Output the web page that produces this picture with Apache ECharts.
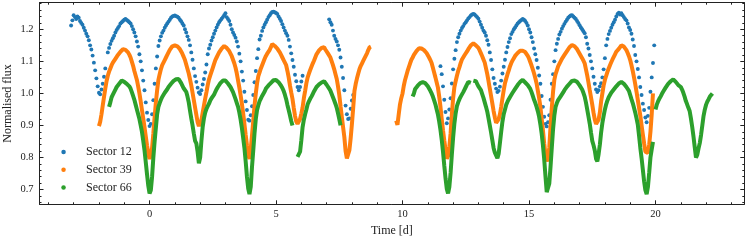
<!DOCTYPE html>
<html><head><meta charset="utf-8">
<script src="https://cdn.jsdelivr.net/npm/echarts@6/dist/echarts.min.js"></script>
<style>html,body{margin:0;padding:0;background:#fff}#c{width:747px;height:242px}</style>
</head><body><div id="c"></div><script>
// Sampling cadence of the read-off values (days)
const cadence = 0.05;

// Sector 12: segment start times and flux values
const s12Start = [-3.10, -1.65, 7.10, 11.50];
const s12Flux = [
 [1.212,1.228,1.244,1.238,1.232,1.240,1.236,1.226,1.220,1.214,
  1.205,1.196,1.186,1.178,1.166,1.150,1.137,1.118,1.096,1.072,
  1.047,1.022,1.002,0.997,1.012,1.030,1.052,1.078],
 [1.128,1.142,1.154,1.164,1.172,1.180,1.190,1.198,1.204,1.210,
  1.218,1.222,1.226,1.230,1.232,1.229,1.226,1.222,1.218,1.210,
  1.200,1.190,1.178,1.162,1.146,1.122,1.100,1.072,1.040,1.010,
  0.972,0.940,0.917,0.898,0.905,0.935,0.979,1.030,1.078,1.115,
  1.148,1.165,1.178,1.189,1.196,1.205,1.212,1.218,1.224,1.230,
  1.236,1.240,1.242,1.243,1.241,1.239,1.236,1.230,1.225,1.218,
  1.212,1.200,1.190,1.178,1.167,1.150,1.128,1.105,1.078,1.054,
  1.036,1.018,1.003,0.998,1.010,1.028,1.045,1.065,1.090,1.122,
  1.140,1.152,1.165,1.175,1.186,1.196,1.206,1.214,1.222,1.228,
  1.233,1.238,1.244,1.250,1.238,1.232,1.226,1.214,1.200,1.190,
  1.182,1.174,1.162,1.146,1.124,1.100,1.068,1.040,1.005,0.975,
  0.948,0.918,0.915,0.932,0.960,0.995,1.035,1.070,1.110,1.138,
  1.168,1.180,1.195,1.206,1.214,1.222,1.230,1.238,1.244,1.250,
  1.254,1.255,1.253,1.251,1.248,1.240,1.233,1.226,1.216,1.206,
  1.196,1.188,1.180,1.167,1.146,1.125,1.104,1.083,1.058,1.038,
  1.020,1.010,1.020,1.037,1.055],
 [1.231,1.222,1.214,1.196,1.180,1.170,1.162,1.150,1.136,1.112,
  1.083,1.048,1.010,0.962,0.935,0.920,0.922,0.952,0.978,0.995],
 [1.085,1.060,1.022,0.980,0.942,0.907,0.922,0.950,0.985,1.031,
  1.075,1.108,1.135,1.160,1.175,1.186,1.196,1.204,1.210,1.217,
  1.222,1.228,1.234,1.238,1.243,1.246,1.248,1.246,1.242,1.238,
  1.233,1.224,1.214,1.205,1.196,1.190,1.180,1.166,1.152,1.128,
  1.104,1.075,1.048,1.030,1.015,1.004,1.008,1.021,1.040,1.062,
  1.083,1.105,1.128,1.145,1.160,1.172,1.185,1.192,1.200,1.206,
  1.212,1.218,1.222,1.226,1.229,1.232,1.230,1.226,1.220,1.212,
  1.200,1.190,1.175,1.160,1.140,1.122,1.104,1.080,1.056,1.030,
  0.992,0.958,0.927,0.905,0.897,0.910,0.932,0.980,1.030,1.060,
  1.100,1.135,1.155,1.170,1.184,1.192,1.202,1.210,1.217,1.224,
  1.230,1.236,1.240,1.243,1.244,1.240,1.236,1.232,1.226,1.220,
  1.213,1.206,1.200,1.194,1.188,1.175,1.155,1.140,1.120,1.100,
  1.078,1.052,1.030,1.012,1.004,1.010,1.022,1.032,1.050,1.075,
  1.110,1.150,1.170,1.185,1.195,1.205,1.214,1.222,1.230,1.240,
  1.248,1.252,1.246,1.250,1.244,1.238,1.232,1.228,1.218,1.206,
  1.198,1.186,1.168,1.148,1.120,1.100,1.076,1.050,1.020,0.995,
  0.968,0.948,0.925,0.910,0.930,0.955,1.005,1.050,1.095,1.150]
];

// Sector 39
const s39Start = [-2.00, 9.75];
const s39Flux = [
 [0.898,0.912,0.935,0.962,0.989,1.015,1.038,1.055,1.068,1.078,
  1.088,1.096,1.102,1.108,1.114,1.120,1.126,1.130,1.134,1.138,
  1.137,1.136,1.133,1.128,1.121,1.112,1.099,1.086,1.070,1.056,
  1.042,1.022,1.000,0.975,0.948,0.922,0.895,0.866,0.838,0.812,
  0.795,0.800,0.830,0.875,0.925,0.972,1.010,1.042,1.060,1.076,
  1.088,1.096,1.104,1.112,1.120,1.128,1.136,1.142,1.147,1.150,
  1.150,1.149,1.147,1.144,1.138,1.131,1.123,1.114,1.104,1.090,
  1.076,1.062,1.044,1.025,1.002,0.979,0.956,0.933,0.910,0.898,
  0.900,0.917,0.940,0.962,0.984,1.004,1.026,1.044,1.056,1.068,
  1.080,1.092,1.104,1.112,1.120,1.128,1.134,1.140,1.144,1.148,
  1.150,1.142,1.138,1.132,1.124,1.116,1.105,1.094,1.080,1.062,
  1.040,1.018,0.994,0.968,0.938,0.905,0.870,0.838,0.810,0.795,
  0.826,0.870,0.915,0.962,1.000,1.032,1.054,1.066,1.078,1.088,
  1.098,1.108,1.117,1.124,1.130,1.136,1.145,1.154,1.150,1.148,
  1.146,1.140,1.134,1.128,1.120,1.112,1.104,1.100,1.088,1.070,
  1.050,1.025,1.003,0.983,0.955,0.930,0.912,0.905,0.908,0.920,
  0.937,0.956,0.985,1.008,1.032,1.050,1.062,1.073,1.083,1.093,
  1.102,1.112,1.122,1.128,1.134,1.138,1.142,1.146,1.144,1.137,
  1.131,1.125,1.119,1.112,1.100,1.088,1.075,1.060,1.045,1.022,
  0.995,0.960,0.927,0.895,0.864,0.820,0.797,0.796,0.823,0.860,
  0.905,0.955,1.008,1.030,1.047,1.062,1.076,1.086,1.094,1.102,
  1.110,1.118,1.126,1.136,1.144,1.146],
 [0.915,0.902,0.935,0.966,0.985,1.000,1.024,1.042,1.056,1.070,
  1.082,1.094,1.105,1.112,1.120,1.126,1.132,1.137,1.141,1.142,
  1.140,1.138,1.135,1.130,1.126,1.120,1.112,1.104,1.095,1.080,
  1.065,1.050,1.034,1.018,0.990,0.958,0.920,0.885,0.854,0.825,
  0.796,0.805,0.833,0.875,0.935,0.985,1.020,1.038,1.055,1.070,
  1.082,1.095,1.106,1.112,1.119,1.125,1.131,1.138,1.144,1.150,
  1.153,1.156,1.155,1.150,1.147,1.142,1.134,1.125,1.116,1.106,
  1.096,1.078,1.060,1.038,1.015,0.992,0.969,0.945,0.925,0.908,
  0.907,0.920,0.935,0.958,0.985,1.010,1.032,1.046,1.060,1.072,
  1.085,1.095,1.103,1.110,1.117,1.122,1.126,1.130,1.133,1.134,
  1.133,1.131,1.129,1.124,1.117,1.109,1.098,1.087,1.075,1.062,
  1.047,1.031,1.008,0.985,0.958,0.922,0.885,0.844,0.810,0.788,
  0.800,0.830,0.896,0.955,1.005,1.042,1.060,1.072,1.084,1.092,
  1.100,1.108,1.114,1.120,1.126,1.132,1.138,1.144,1.148,1.151,
  1.150,1.147,1.143,1.138,1.131,1.124,1.118,1.110,1.102,1.094,
  1.075,1.056,1.034,1.010,0.988,0.965,0.940,0.918,0.905,0.905,
  0.918,0.940,0.975,1.000,1.025,1.042,1.055,1.067,1.078,1.088,
  1.097,1.106,1.114,1.122,1.130,1.135,1.139,1.142,1.150,1.152,
  1.146,1.141,1.135,1.126,1.116,1.104,1.088,1.070,1.050,1.028,
  1.005,0.980,0.955,0.930,0.900,0.872,0.844,0.818,0.812,0.814,
  0.840,0.880,0.935,1.000]
];

// Sector 66
const s66Start = [-1.60, 5.85, 10.40, 12.80, 20.00];
const s66Flux = [
 [0.958,0.972,0.988,0.996,1.004,1.012,1.020,1.026,1.030,1.036,
  1.040,1.042,1.036,1.033,1.030,1.026,1.022,1.015,1.004,0.992,
  0.980,0.965,0.950,0.935,0.920,0.900,0.880,0.852,0.823,0.786,
  0.748,0.712,0.688,0.698,0.740,0.800,0.850,0.893,0.935,0.958,
  0.970,0.980,0.989,0.995,1.002,1.007,1.013,1.020,1.025,1.030,
  1.035,1.039,1.042,1.044,1.047,1.045,1.040,1.032,1.026,1.016,
  1.010,1.005,0.990,0.972,0.946,0.922,0.900,0.875,0.852,0.844,
  0.818,0.782,0.800,0.852,0.895,0.922,0.940,0.952,0.960,0.968,
  0.978,0.985,0.990,0.996,1.005,1.013,1.020,1.026,1.032,1.036,
  1.040,1.044,1.040,1.035,1.031,1.025,1.020,1.014,1.004,0.993,
  0.982,0.970,0.958,0.940,0.918,0.892,0.862,0.830,0.788,0.740,
  0.703,0.686,0.708,0.771,0.822,0.876,0.920,0.948,0.963,0.976,
  0.984,0.992,0.999,1.006,1.015,1.020,1.025,1.030,1.033,1.037,
  1.041,1.044,1.042,1.038,1.035,1.030,1.024,1.017,1.008,0.996,
  0.982,0.964,0.948,0.932,0.914,0.900],
 [0.802,0.806,0.818,0.854,0.895,0.918,0.935,0.950,0.966,0.975,
  0.983,0.990,0.998,1.006,1.013,1.020,1.025,1.028,1.031,1.034,
  1.039,1.038,1.032,1.027,1.021,1.015,1.008,0.998,0.988,0.978,
  0.967,0.955,0.938,0.920,0.900],
 [0.990,1.000,1.014,1.020,1.024,1.028,1.032,1.036,1.035,1.034,
  1.032,1.027,1.022,1.015,1.008,1.000,0.990,0.978,0.966,0.950,
  0.934,0.912,0.886,0.855,0.818,0.775,0.735,0.702,0.688,0.708,
  0.752,0.810,0.862,0.906,0.938,0.960,0.972,0.982,0.990,0.996,
  1.004,1.012,1.020,1.028,1.036,1.035,1.033],
 [1.040,1.042,1.038,1.030,1.022,1.016,1.010,0.998,0.986,0.972,
  0.958,0.943,0.922,0.900,0.878,0.854,0.830,0.815,0.810,0.798,
  0.812,0.845,0.880,0.912,0.935,0.950,0.965,0.974,0.982,0.989,
  0.995,1.002,1.008,1.014,1.020,1.026,1.032,1.036,1.039,1.042,
  1.038,1.034,1.031,1.026,1.020,1.014,1.004,0.992,0.980,0.970,
  0.958,0.944,0.927,0.903,0.875,0.838,0.795,0.742,0.692,0.690,
  0.718,0.771,0.830,0.888,0.930,0.958,0.970,0.979,0.985,0.991,
  0.996,1.003,1.010,1.016,1.021,1.026,1.030,1.035,1.039,1.042,
  1.040,1.038,1.036,1.030,1.025,1.020,1.012,1.002,0.990,0.972,
  0.950,0.928,0.906,0.878,0.852,0.838,0.822,0.796,0.788,0.810,
  0.840,0.878,0.908,0.930,0.950,0.966,0.978,0.988,0.995,1.002,
  1.007,1.012,1.018,1.022,1.027,1.031,1.034,1.036,1.035,1.030,
  1.027,1.020,1.014,1.008,0.995,0.982,0.970,0.955,0.940,0.922,
  0.903,0.868,0.830,0.798,0.762,0.725,0.698,0.686,0.708,0.752,
  0.800,0.825,0.849],
 [0.950,0.965,0.975,0.983,0.990,0.998,1.005,1.011,1.018,1.024,
  1.030,1.035,1.038,1.042,1.044,1.040,1.036,1.032,1.026,1.022,
  1.020,1.012,1.002,0.990,0.976,0.966,0.955,0.945,0.922,0.896,
  0.866,0.833,0.800,0.808,0.828,0.845,0.870,0.900,0.930,0.950,
  0.965,0.975,0.982,0.990,0.995,1.000]
];

const seriesNames = ['Sector 12', 'Sector 39', 'Sector 66'];
const xMajorTicks = [0, 5, 10, 15, 20];
const yMajorTicks = [0.7, 0.8, 0.9, 1.0, 1.1, 1.2];

function build(starts, fluxes) {
  const out = [];
  starts.forEach((s, k) => {
    if (k > 0) out.push([s - cadence / 2, '-']);
    fluxes[k].forEach((f, i) => out.push([Math.round((s + i * cadence) * 100) / 100, f]));
  });
  return out;
}

const XMIN = -4.35, XMAX = 23.51, YMIN = 0.654, YMAX = 1.283;
const xMinor = []; for (let v = -4; v <= 23; v++) xMinor.push(v);
const yMinor = []; for (let k = 33; k <= 64; k++) yMinor.push(Math.round(k * 2) / 100);

const FONT = 'Liberation Serif';
const frame = { show: true, onZero: false, lineStyle: { color: '#222', width: 1 } };

function axis(kind, pos, ticks, len, withLine, labels) {
  const a = {
    type: 'value', position: pos,
    min: kind === 'x' ? XMIN : YMIN, max: kind === 'x' ? XMAX : YMAX,
    axisLine: withLine ? frame : { show: false, onZero: false },
    axisTick: { show: true, inside: true, length: len, customValues: ticks, lineStyle: { color: '#222', width: 1 } },
    axisLabel: { show: false },
    splitLine: { show: false }, minorTick: { show: false }, axisPointer: { show: false }
  };
  if (labels) {
    a.axisLabel = { show: true, customValues: ticks, margin: kind === 'x' ? 4 : 6,
      fontFamily: FONT, fontSize: 10.5, color: '#222',
      formatter: kind === 'x' ? (v => String(v)) : (v => v.toFixed(1)) };
  }
  return a;
}

const xAxes = [axis('x','bottom',xMajorTicks,4,true,true), axis('x','bottom',xMinor,2,false,false),
               axis('x','top',xMajorTicks,4,true,false), axis('x','top',xMinor,2,false,false)];
xAxes[0].name = 'Time [d]'; xAxes[0].nameLocation = 'middle'; xAxes[0].nameGap = 21;
xAxes[0].nameMoveOverlap = false;
xAxes[0].nameTextStyle = { fontFamily: FONT, fontSize: 12, color: '#222' };
const yAxes = [axis('y','left',yMajorTicks,4,true,true), axis('y','left',yMinor,2,false,false),
               axis('y','right',yMajorTicks,4,true,false), axis('y','right',yMinor,2,false,false)];
yAxes[0].name = 'Normalised flux'; yAxes[0].nameLocation = 'middle'; yAxes[0].nameGap = 25.5;
yAxes[0].nameMoveOverlap = false;
yAxes[0].nameTextStyle = { fontFamily: FONT, fontSize: 12, color: '#222' };

const chart = echarts.init(document.getElementById('c'), null, { renderer: 'canvas' });
chart.setOption({
  animation: false,
  backgroundColor: '#fff',
  grid: { left: 39.5, right: 2.7, top: 2.7, bottom: 37.7, containLabel: false, outerBoundsMode: 'none' },
  xAxis: xAxes,
  yAxis: yAxes,
  legend: {
    data: seriesNames, orient: 'vertical', left: 61.3, top: 145.5, padding: 0,
    icon: 'circle', itemWidth: 35, itemHeight: 4.5, itemGap: 4.7,
    textStyle: { fontFamily: FONT, fontSize: 12, lineHeight: 13, color: '#222' }
  },
  series: [
    { name: seriesNames[0], type: 'scatter', data: build(s12Start, s12Flux),
      symbolSize: 3.9, itemStyle: { color: '#1f77b4', opacity: 1 } },
    { name: seriesNames[1], type: 'line', data: build(s39Start, s39Flux), showSymbol: false,
      connectNulls: false, lineStyle: { color: '#ff7f0e', width: 4 }, itemStyle: { color: '#ff7f0e' } },
    { name: seriesNames[2], type: 'line', data: build(s66Start, s66Flux), showSymbol: false,
      connectNulls: false, lineStyle: { color: '#2ca02c', width: 4 }, itemStyle: { color: '#2ca02c' } }
  ]
});
</script></body></html>
